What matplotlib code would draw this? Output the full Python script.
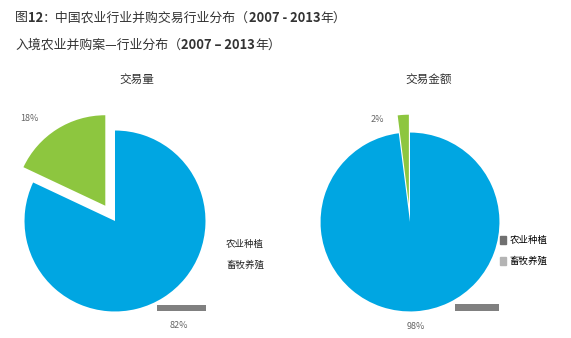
import matplotlib
matplotlib.use("Agg")
import matplotlib.pyplot as plt
from matplotlib.patches import Patch

plt.rcParams['font.family'] = ['Noto Sans CJK SC', 'DejaVu Sans']

# data
categories = ['农业种植', '畜牧养殖']
count_share = [82, 18]     # 交易量
amount_share = [98, 2]     # 交易金额
pie_titles = ['交易量', '交易金额']

blue = '#00a6e2'
green = '#8dc63f'
W, H = 571, 338

fig = plt.figure(figsize=(W / 100, H / 100), dpi=100)
bg = fig.add_axes([0, 0, 1, 1])
bg.axis('off')
bg.set_xlim(0, W)
bg.set_ylim(H, 0)

# title lines (mixed bold pieces)
def title_line(parts, x, y):
    prev = None
    for txt, bold in parts:
        kw = dict(fontsize=9.3, color='#333333', va='center', ha='left',
                  fontweight='bold' if bold else 'normal')
        if prev is None:
            prev = bg.text(x, y, txt, **kw)
        else:
            prev = bg.annotate(txt, xy=(1, 0.5), xycoords=prev, **kw)

title_line([('图', False), ('12', True), ('：中国农业行业并购交易行业分布（', False),
            ('2007 - 2013', True), ('年）', False)], 15, 18)
title_line([('入境农业并购案—行业分布（', False), ('2007 – 2013', True), ('年）', False)], 15, 45)

def pie_axes(cx, cy, r):
    lim = 1.3
    w = 2 * lim * r
    ax = fig.add_axes([(cx - w / 2) / W, (H - cy - w / 2) / H, w / W, w / H])
    ax.set_xlim(-lim, lim)
    ax.set_ylim(-lim, lim)
    ax.set_aspect('equal')
    ax.axis('off')
    return ax

# left pie
ax1 = pie_axes(115, 221, 87)
ax1.pie(count_share, colors=[blue, green], startangle=90, counterclock=False,
        explode=[0, 0.2], radius=1)
ax1.text(-0.95, 1.13, f'{count_share[1]}%', fontsize=6.5, color='#666666', ha='center', va='center')
ax1.text(0.71, -1.16, f'{count_share[0]}%', fontsize=6.5, color='#666666', ha='center', va='center')
ax1.barh(-0.965, 0.55, height=0.07, left=0.46, color='#808080')
bg.text(137, 79, pie_titles[0], fontsize=8.4, color='#333333', ha='center', va='center')

# right pie
ax2 = pie_axes(410, 222, 86)
ax2.pie(amount_share, colors=[blue, green], startangle=90, counterclock=False,
        explode=[0, 0.2], radius=1)
ax2.text(-0.37, 1.15, f'{amount_share[1]}%', fontsize=6.5, color='#666666', ha='center', va='center')
ax2.text(0.06, -1.17, f'{amount_share[0]}%', fontsize=6.5, color='#666666', ha='center', va='center')
ax2.barh(-0.955, 0.5, height=0.07, left=0.5, color='#808080')
bg.text(429, 79, pie_titles[1], fontsize=8.4, color='#333333', ha='center', va='center')

# legends
for i, lab in enumerate(categories):
    bg.text(226, 244 + 21 * i, lab, fontsize=6.8, color='#222222', ha='left', va='center')
leg = fig.legend(handles=[Patch(color='#707070', label=categories[0]),
                          Patch(color='#b4b4b4', label=categories[1])],
                 loc='upper left', bbox_to_anchor=(500 / W, 1 - 236 / H),
                 frameon=False, fontsize=6.8, handlelength=0.6, handleheight=0.9,
                 handletextpad=0.4, labelspacing=1.2, borderaxespad=0, borderpad=0)

fig.savefig('out.png', dpi=100)
